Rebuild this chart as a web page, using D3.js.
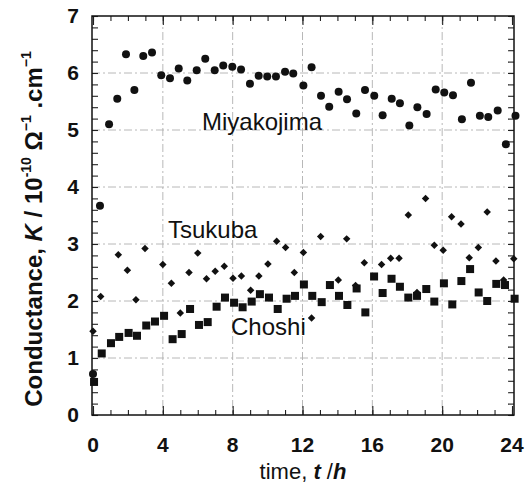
<!DOCTYPE html>
<html>
<head>
<meta charset="utf-8">
<script src="https://cdn.jsdelivr.net/npm/d3@7"></script>
<style>
  body { margin: 0; background: #fff; }
  text { font-family: "Liberation Sans", Arial, sans-serif; }
</style>
</head>
<body>
<svg width="525" height="487"></svg>
<script>
// Miyakojima (circles)
var miyaT = [0, 0.4, 0.92, 1.39, 1.89, 2.37, 2.88, 3.38, 3.91, 4.41, 4.91, 5.4, 5.94, 6.43, 6.97, 7.46, 7.98, 8.48, 8.99, 9.49, 9.98, 10.48, 11.0, 11.47, 12.05, 12.52, 13.06, 13.53, 14.07, 14.55, 15.08, 15.58, 16.11, 16.59, 17.11, 17.58, 18.12, 18.58, 19.11, 19.63, 20.12, 20.62, 21.13, 21.65, 22.16, 22.64, 23.18, 23.65, 24.2];
var miyaK = [0.72, 3.67, 5.1, 5.55, 6.33, 5.7, 6.3, 6.36, 5.96, 5.91, 6.08, 5.87, 6.05, 6.25, 6.05, 6.13, 6.11, 6.06, 5.81, 5.95, 5.94, 5.94, 6.02, 5.99, 5.78, 6.1, 5.6, 5.41, 5.67, 5.54, 5.29, 5.7, 5.6, 5.26, 5.55, 5.47, 5.08, 5.4, 5.28, 5.71, 5.66, 5.61, 5.19, 5.83, 5.25, 5.23, 5.34, 4.75, 5.25];

// Tsukuba (diamonds)
var tsukT = [0, 0.44, 1.45, 1.97, 2.46, 2.98, 4.0, 4.49, 5.0, 5.5, 6.0, 6.5, 7.0, 7.52, 8.02, 8.5, 9.03, 9.5, 10.02, 10.52, 11.03, 11.53, 12.05, 12.52, 13.04, 14.05, 14.53, 15.04, 15.54, 16.53, 17.05, 17.53, 18.06, 18.56, 19.05, 19.55, 20.06, 20.54, 21.08, 21.55, 22.07, 22.58, 23.08, 23.52, 24.1];
var tsukK = [1.47, 2.08, 2.81, 2.54, 2.02, 2.92, 2.64, 2.31, 1.79, 2.5, 2.84, 2.39, 2.52, 2.61, 2.4, 2.44, 2.19, 2.44, 2.65, 3.05, 2.94, 2.5, 2.85, 1.7, 3.13, 2.37, 3.09, 2.27, 2.67, 2.64, 2.75, 2.75, 3.51, 2.15, 3.8, 2.98, 2.89, 3.48, 3.35, 2.76, 2.94, 3.56, 2.7, 2.37, 2.74];

// Choshi (squares)
var choT = [0.06, 0.5, 1.03, 1.5, 2.04, 2.52, 3.05, 3.55, 4.07, 4.56, 5.08, 5.56, 6.07, 6.57, 7.08, 7.56, 8.08, 8.57, 9.09, 9.56, 10.08, 10.58, 11.09, 11.57, 12.08, 12.56, 13.1, 13.57, 14.09, 14.57, 15.1, 15.6, 16.1, 16.59, 17.1, 17.58, 18.06, 18.56, 19.09, 19.55, 20.1, 20.58, 21.1, 21.6, 22.09, 22.58, 23.1, 23.6, 24.15];
var choK = [0.58, 1.08, 1.26, 1.37, 1.44, 1.39, 1.57, 1.64, 1.74, 1.33, 1.42, 1.86, 1.58, 1.63, 1.9, 2.06, 1.97, 1.89, 1.99, 2.12, 2.06, 1.86, 2.04, 2.09, 2.29, 2.09, 1.98, 2.28, 2.09, 1.93, 2.22, 1.8, 2.43, 2.14, 2.39, 2.25, 2.06, 2.09, 2.21, 1.99, 2.31, 1.94, 2.35, 2.56, 2.15, 2.0, 2.3, 2.28, 2.04];

var xTicks = [0, 4, 8, 12, 16, 20, 24];
var yTicks = [0, 1, 2, 3, 4, 5, 6, 7];

var svg = d3.select("svg");
var pLeft = 92, pRight = 514, pTop = 16, pBottom = 415;

var x = d3.scaleLinear().domain([0, 24]).range([pLeft + 1, pRight - 2]);
var y = d3.scaleLinear().domain([0, 7]).range([pBottom, pTop]);

// dashed grid
var grid = svg.append("g").attr("stroke", "#b0b0b0").attr("stroke-width", 0.9)
    .attr("stroke-dasharray", "8,3,2,3");
grid.selectAll(".gx").data(xTicks.slice(1, -1)).enter().append("line")
    .attr("x1", d => x(d)).attr("x2", d => x(d)).attr("y1", pTop).attr("y2", pBottom);
grid.selectAll(".gy").data(yTicks.slice(1, -1)).enter().append("line")
    .attr("x1", pLeft).attr("x2", pRight).attr("y1", d => y(d)).attr("y2", d => y(d));

// axes with inner ticks on all sides
var xMinor = d3.range(0, 25, 1);
var yMinor = d3.range(0, 7.01, 0.2);

function tickAxis(axis, size, vals) {
    return axis.tickValues(vals).tickSize(size).tickFormat("");
}
svg.append("g").attr("transform", "translate(0," + pBottom + ")")
    .call(tickAxis(d3.axisTop(x), 5, xMinor));
svg.append("g").attr("transform", "translate(0," + pBottom + ")")
    .call(tickAxis(d3.axisTop(x), 9, xTicks));
svg.append("g").attr("transform", "translate(0," + pTop + ")")
    .call(tickAxis(d3.axisBottom(x), 5, xMinor));
svg.append("g").attr("transform", "translate(0," + pTop + ")")
    .call(tickAxis(d3.axisBottom(x), 9, xTicks));
svg.append("g").attr("transform", "translate(" + pLeft + ",0)")
    .call(tickAxis(d3.axisRight(y), 6, yMinor));
svg.append("g").attr("transform", "translate(" + pRight + ",0)")
    .call(tickAxis(d3.axisLeft(y), 6, yMinor));
svg.selectAll(".domain").remove();
svg.selectAll(".tick line").attr("stroke", "#222").attr("stroke-width", 1.1);

svg.append("rect").attr("x", pLeft).attr("y", pTop)
    .attr("width", pRight - pLeft).attr("height", pBottom - pTop)
    .attr("fill", "none").attr("stroke", "#111").attr("stroke-width", 1.5);

// tick labels
svg.selectAll(".xl").data(xTicks).enter().append("text")
    .attr("x", d => x(d)).attr("y", 452).attr("text-anchor", "middle")
    .attr("font-size", 21).attr("font-weight", "bold").attr("fill", "#111")
    .text(d => d);
svg.selectAll(".yl").data(yTicks).enter().append("text")
    .attr("x", 79).attr("y", d => y(d) + 7).attr("text-anchor", "end")
    .attr("font-size", 21).attr("font-weight", "bold").attr("fill", "#111")
    .text(d => d);

// axis titles
var xt = svg.append("text").attr("x", 303).attr("y", 479).attr("text-anchor", "middle")
    .attr("font-size", 22).attr("fill", "#111");
xt.append("tspan").text("time, ");
xt.append("tspan").attr("font-style", "italic").attr("font-weight", "bold").text("t");
xt.append("tspan").text(" /");
xt.append("tspan").attr("font-style", "italic").attr("font-weight", "bold").text("h");

var yt = svg.append("text").attr("transform", "translate(42,229) rotate(-90)")
    .attr("text-anchor", "middle").attr("font-size", 24).attr("font-weight", "bold")
    .attr("fill", "#111");
yt.append("tspan").text("Conductance, ");
yt.append("tspan").attr("font-style", "italic").text("K");
yt.append("tspan").text(" / 10");
yt.append("tspan").attr("font-size", 14).attr("dy", -11).text("-10");
yt.append("tspan").attr("dy", 11).text(" \u03a9");
yt.append("tspan").attr("font-size", 14).attr("dy", -11).text("\u22121");
yt.append("tspan").attr("dy", 11).text(" .cm");
yt.append("tspan").attr("font-size", 14).attr("dy", -11).text("\u22121");

// markers
svg.append("g").selectAll("circle").data(d3.zip(miyaT, miyaK)).enter().append("circle")
    .attr("cx", d => x(d[0])).attr("cy", d => y(d[1])).attr("r", 4).attr("fill", "#111");

svg.append("g").selectAll("rect").data(d3.zip(choT, choK)).enter().append("rect")
    .attr("x", d => x(d[0]) - 4).attr("y", d => y(d[1]) - 4)
    .attr("width", 8).attr("height", 8).attr("fill", "#111");

svg.append("g").selectAll("path").data(d3.zip(tsukT, tsukK)).enter().append("path")
    .attr("d", d3.symbol().type(d3.symbolSquare).size(28))
    .attr("transform", d => "translate(" + x(d[0]) + "," + y(d[1]) + ") rotate(45)")
    .attr("fill", "#111");

// series labels
var labels = [["Miyakojima", 202, 130], ["Tsukuba", 168, 238], ["Choshi", 231, 335]];
svg.selectAll(".sl").data(labels).enter().append("text")
    .attr("x", d => d[1]).attr("y", d => d[2])
    .attr("font-size", 24).attr("fill", "#111").text(d => d[0]);
</script>
</body>
</html>
